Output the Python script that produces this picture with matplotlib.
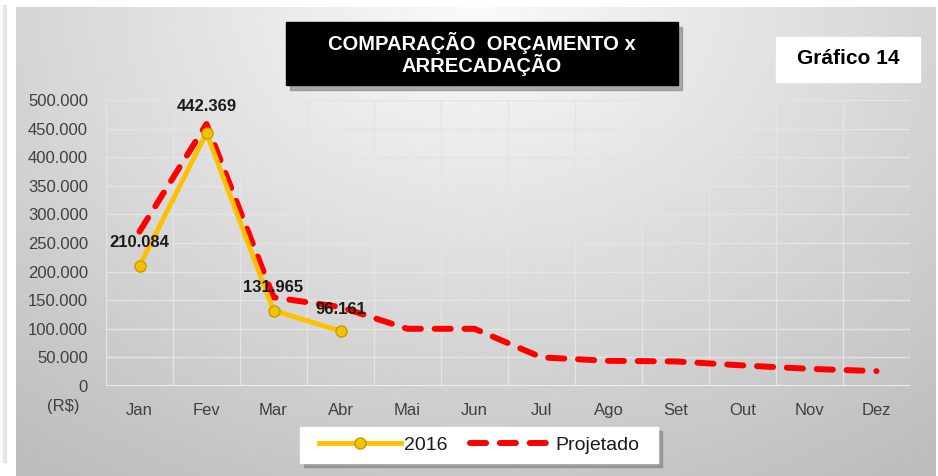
import numpy as np
import matplotlib.pyplot as plt
from matplotlib.patches import Rectangle
from matplotlib.ticker import FuncFormatter

plt.rcParams['font.family'] = ['Liberation Sans', 'DejaVu Sans']

meses = ["Jan", "Fev", "Mar", "Abr", "Mai", "Jun", "Jul", "Ago", "Set", "Out", "Nov", "Dez"]
real_2016 = [210084, 442369, 131965, 96161]
projetado = [270000, 458000, 155000, 138000, 100000, 100000, 50000, 44000, 43000, 36000, 30000, 26000]
rotulos = ["210.084", "442.369", "131.965", "96.161"]

W, H = 938, 476
fig = plt.figure(figsize=(W / 100, H / 100), dpi=100)
fig.patch.set_facecolor("white")

# gray gradient panel behind the chart
bg = fig.add_axes([16 / W, 0, (935 - 16) / W, 1 - 7 / H], zorder=0)
yy, xx = np.mgrid[0:1:200j, 0:1:400j]
d = np.sqrt(((xx - 0.5) / 0.75) ** 2 + (yy / 1.1) ** 2)
shade = np.clip(0.98 - 0.22 * d, 0.74, 1.0)
bg.imshow(shade, cmap="gray", vmin=0, vmax=1, aspect="auto", extent=[0, 1, 1, 0])
bg.axis("off")

# left border line
fig.add_artist(Rectangle((3 / W, 0.03), 3 / W, 0.96, transform=fig.transFigure,
                         color="#e6e6e6", zorder=0))

ax = fig.add_axes([106 / W, 1 - 386 / H, (910 - 106) / W, (386 - 100) / H], zorder=2)
ax.patch.set_alpha(0)
x = np.arange(len(meses))
ax.set_xlim(-0.5, 11.5)
ax.set_ylim(0, 500000)
ax.set_yticks(np.arange(0, 500001, 50000))
ax.yaxis.set_major_formatter(FuncFormatter(lambda v, p: f"{int(v):,}".replace(",", ".")))
ax.set_xticks(x)
ax.set_xticklabels(meses)
ax.set_xticks(np.arange(-0.5, 12, 1), minor=True)
ax.grid(True, which="major", axis="y", color="#e4e4e4", lw=1)
ax.grid(True, which="minor", axis="x", color="#e4e4e4", lw=1)
ax.tick_params(which="both", length=0, labelsize=12, labelcolor="#404040")
ax.tick_params(axis="x", pad=12)
ax.tick_params(axis="y", pad=13)
for s in ax.spines.values():
    s.set_visible(False)
ax.axhline(0, color="#f2f2f2", lw=2)
ax.set_axisbelow(True)

ax.plot(x, projetado, color="#ff0000", lw=4.3, dashes=(2.7, 2.3),
        dash_capstyle="round", solid_capstyle="round", label="Projetado", zorder=3)
ax.plot(x[:len(real_2016)], real_2016, color="#ffc000", lw=3.5, marker="o", ms=8,
        mfc="#f2c200", mec="#c89a00", mew=1, label="2016", zorder=4)

offs = [(0, 27000), (0, 34000), (0, 28000), (0, 24000)]
for i, (v, t) in enumerate(zip(real_2016, rotulos)):
    ax.text(i + offs[i][0], v + offs[i][1], t, ha="center", va="bottom",
            fontsize=12, fontweight="bold", color="#1a1a1a", zorder=5)

fig.text(63 / W, 1 - 407 / H, "(R$)", ha="center", va="center", fontsize=12, color="#404040")

# title box with shadow
fig.add_artist(Rectangle((290 / W, 1 - 90 / H), 392 / W, 63 / H, transform=fig.transFigure,
                         color="#7f7f7f", alpha=0.6, zorder=3))
fig.add_artist(Rectangle((286 / W, 1 - 85 / H), 392 / W, 63 / H, transform=fig.transFigure,
                         color="black", zorder=4))
fig.text(482 / W, 1 - 54 / H, "COMPARAÇÃO  ORÇAMENTO x\nARRECADAÇÃO", ha="center", va="center",
         fontsize=14.5, fontweight="bold", color="white", linespacing=0.95, zorder=5)

fig.add_artist(Rectangle((776 / W, 1 - 82 / H), 144 / W, 45 / H, transform=fig.transFigure,
                         color="white", zorder=4))
fig.text(848 / W, 1 - 59 / H, "Gráfico 14", ha="center", va="center", fontsize=15,
         fontweight="bold", color="black", zorder=5)

# legend box with shadow
fig.add_artist(Rectangle((304 / W, 1 - 467 / H), 358 / W, 36 / H, transform=fig.transFigure,
                         color="#7f7f7f", alpha=0.6, zorder=3))
fig.add_artist(Rectangle((300 / W, 1 - 463 / H), 358 / W, 36 / H, transform=fig.transFigure,
                         color="white", zorder=4))
h, l = ax.get_legend_handles_labels()
leg = fig.legend(h[::-1], l[::-1], loc="center", bbox_to_anchor=(479 / W, 1 - 445 / H), ncol=2,
                 fontsize=14, frameon=False, handlelength=4.2, columnspacing=1.2,
                 handletextpad=0.15, borderpad=0.2)
leg.set_zorder(5)
for t in leg.get_texts():
    t.set_color("#1a1a1a")

fig.savefig("out.png", dpi=100)
